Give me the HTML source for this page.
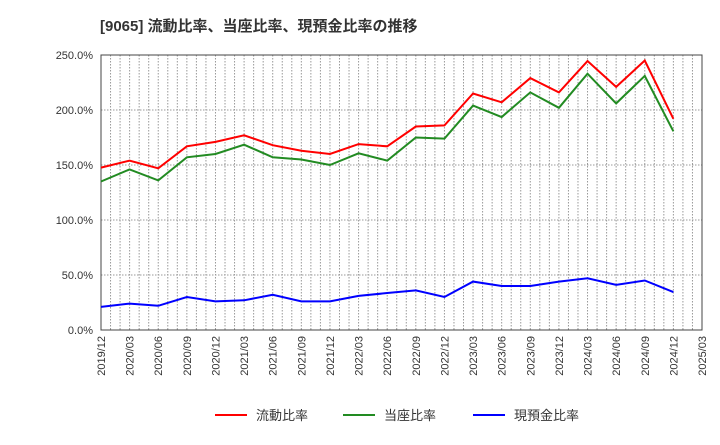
<!DOCTYPE html>
<html><head><meta charset="utf-8"><style>
body{margin:0;background:#fff;font-family:"Liberation Sans","Noto Sans CJK JP",sans-serif}
</style></head><body>
<svg id="c" width="720" height="440" xmlns="http://www.w3.org/2000/svg" font-family="Liberation Sans, Noto Sans CJK JP, sans-serif">
<text x="100" y="31" font-size="15" font-weight="bold" fill="#333">[9065]  流動比率、当座比率、現預金比率の推移</text>
<g id="grid"></g><g id="axes"></g><g id="series"></g><g id="legend"></g>
</svg>
<script>
const categories=["2019/12","2020/03","2020/06","2020/09","2020/12","2021/03","2021/06","2021/09","2021/12","2022/03","2022/06","2022/09","2022/12","2023/03","2023/06","2023/09","2023/12","2024/03","2024/06","2024/09","2024/12","2025/03"];
const currentRatio=[147.6,154,147,167,171,177,168,163,160,169,167,185,186,215,207,229,216,244.5,221,245,192];
const quickRatio=[135,146,136,157,160,168.5,157,155,150,160.6,154,175,174,204,193.6,216,202,233,206,231,180.6];
const cashRatio=[21,24,22,30,26,27,32,26,26,31,33.6,36,30,44,40,40,44,47,41,45,34.5];
const yTicks=[0,50,100,150,200,250];
const yTickLabels=["0.0%","50.0%","100.0%","150.0%","200.0%","250.0%"];
const seriesNames=["流動比率","当座比率","現預金比率"];
const NS="http://www.w3.org/2000/svg";
const L=101,R=702,T=55,B=330;
const step=(R-L)/(categories.length-1);
const xs=i=>L+i*step;
const ys=v=>B-(v/250)*(B-T);
function mk(tag,attrs,parent){const e=document.createElementNS(NS,tag);for(const k in attrs)e.setAttribute(k,attrs[k]);document.getElementById(parent).appendChild(e);return e;}
// monthly vertical grid
for(let m=0;m<=(categories.length-1)*3;m++){const x=L+m*step/3;
const g=mk('line',{x1:x,x2:x,y1:T,y2:B,stroke:'#999','stroke-dasharray':'1.5,1.5','stroke-width':1},'grid');

}
yTicks.forEach((v,i)=>{const y=ys(v);
const g=mk('line',{x1:L,x2:R,y1:y,y2:y,stroke:'#999','stroke-dasharray':'1.5,1.5','stroke-width':1},'grid');


const t=mk('text',{x:93,y:y+4,'text-anchor':'end','font-size':11,fill:'#333'},'axes');t.textContent=yTickLabels[i];

});
const fr=mk('rect',{x:L,y:T,width:R-L,height:B-T,fill:'none',stroke:'#444','stroke-width':1},'axes');


categories.forEach((c,i)=>{const x=xs(i);
const t=mk('text',{x:0,y:0,'text-anchor':'end','font-size':11,fill:'#333',transform:`translate(${x+4},${B+6}) rotate(-90)`},'axes');t.textContent=c;

});
const colors=['#ff0000','#228b22','#0000ff'];
[currentRatio,quickRatio,cashRatio].forEach((d,si)=>{
const p=mk('polyline',{points:d.map((v,i)=>xs(i)+','+ys(v)).join(' '),fill:'none',stroke:colors[si],'stroke-width':2},'series');

});
const lx=[215,343,473];
seriesNames.forEach((n,i)=>{
const l=mk('line',{x1:lx[i],x2:lx[i]+32,y1:415,y2:415,stroke:colors[i],'stroke-width':2},'legend');


const t=mk('text',{x:lx[i]+41,y:420,'font-size':13,fill:'#333'},'legend');t.textContent=n;

});
</script>
</body></html>
